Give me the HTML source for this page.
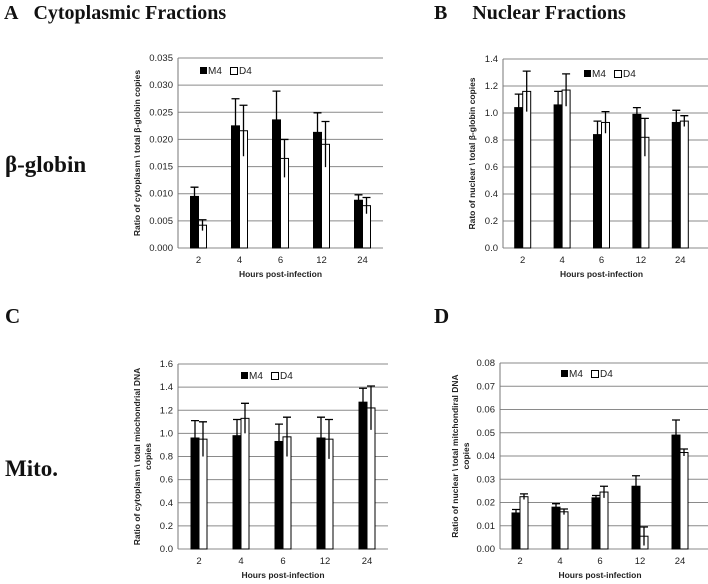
<!DOCTYPE html>
<html><head><meta charset="utf-8"><style>
body{margin:0;background:#fff;width:708px;height:584px;overflow:hidden;position:relative}
.t{position:absolute;font-family:"Liberation Serif",serif;font-weight:bold;color:#111;white-space:nowrap}
svg{position:absolute;left:0;top:0}
</style></head><body>
<div class="t" style="left:4px;top:2px;font-size:20px">A&nbsp;&nbsp;&nbsp;Cytoplasmic Fractions</div>
<div class="t" style="left:434px;top:2px;font-size:20px">B&nbsp;&nbsp;&nbsp;&nbsp;&nbsp;Nuclear Fractions</div>
<div class="t" style="left:5px;top:152px;font-size:23px">β-globin</div>
<div class="t" style="left:5px;top:304px;font-size:21px">C</div>
<div class="t" style="left:434px;top:304px;font-size:21px">D</div>
<div class="t" style="left:5px;top:456px;font-size:23px">Mito.</div>
<svg id="s" width="708" height="584"></svg>
<script>
const categories=["2","4","6","12","24"];
const aM4=[0.0095,0.0225,0.0236,0.0213,0.0088], aM4err=[0.0017,0.005,0.0053,0.0036,0.001];
const aD4=[0.0042,0.0216,0.0165,0.0191,0.0078], aD4err=[0.001,0.0047,0.0035,0.0042,0.0015];
const aTicks=["0.000","0.005","0.010","0.015","0.020","0.025","0.030","0.035"];
const bM4=[1.04,1.06,0.84,0.99,0.93], bM4err=[0.10,0.10,0.10,0.05,0.09];
const bD4=[1.16,1.17,0.93,0.82,0.94], bD4err=[0.15,0.12,0.08,0.14,0.04];
const bTicks=["0.0","0.2","0.4","0.6","0.8","1.0","1.2","1.4"];
const cM4=[0.96,0.98,0.93,0.96,1.27], cM4err=[0.15,0.14,0.15,0.18,0.12];
const cD4=[0.95,1.13,0.97,0.95,1.22], cD4err=[0.15,0.13,0.17,0.17,0.19];
const cTicks=["0.0","0.2","0.4","0.6","0.8","1.0","1.2","1.4","1.6"];
const dM4=[0.0155,0.018,0.022,0.027,0.049], dM4err=[0.0015,0.0015,0.001,0.0045,0.0065];
const dD4=[0.0225,0.016,0.0245,0.0055,0.0415], dD4err=[0.0012,0.0012,0.0025,0.004,0.0015];
const dTicks=["0.00","0.01","0.02","0.03","0.04","0.05","0.06","0.07","0.08"];

const svg=document.getElementById('s');const NS="http://www.w3.org/2000/svg";
function mk(tag,at,txt){const e=document.createElementNS(NS,tag);for(const k in at)e.setAttribute(k,at[k]);if(txt!==undefined)e.textContent=txt;svg.appendChild(e);return e;}
function chart(p){
  const ticks=p.ticks, max=parseFloat(ticks[ticks.length-1]);
  const y=v=>p.y0-(v/max)*(p.y0-p.y1);
  const cw=(p.x1-p.x0)/categories.length;
  const x=i=>p.x0+cw*(i+0.5);
  ticks.forEach(t=>{const yy=y(parseFloat(t));
    const g=mk('line',{x1:p.x0,x2:p.gx,y1:yy,y2:yy,stroke:'#8a8a8a','stroke-width':1});
    
    
    const l=mk('text',{x:p.x0-5,y:yy+3,'font-size':9.5,'text-anchor':'end','font-family':'Liberation Sans, sans-serif',fill:'#222'},t);
    
    
  });
  const ax=mk('line',{x1:p.x0,x2:p.x0,y1:p.y1,y2:p.y0,stroke:'#777'});
  
  
  categories.forEach((c,i)=>{
    const cx=x(i);
    [[p.m,p.me,'#000',-8],[p.d,p.de,'#fff',0]].forEach(([vals,errs,fill,off])=>{
      const v=vals[i],e=errs[i];
      const r=mk('rect',{x:cx+off,y:y(v),width:8,height:p.y0-y(v),fill:fill,stroke:'#000','stroke-width':1});
      
      
      const ex=cx+off+4;
      const w=mk('path',{d:`M${ex},${y(v-e)}V${y(v+e)}M${ex-4},${y(v+e)}H${ex+4}`,stroke:'#000','stroke-width':1.3,fill:'none'});
      
      
    });
    const tl=mk('text',{x:cx,y:p.y0+15,'font-size':9.5,'text-anchor':'middle','font-family':'Liberation Sans, sans-serif',fill:'#222'},c);
    
    
  });
  const xt=mk('text',{x:(p.x0+p.x1)/2,y:p.y0+29,'font-size':8.5,'font-weight':'bold','text-anchor':'middle','font-family':'Liberation Sans, sans-serif',fill:'#222'},'Hours post-infection');
  
  
  const cy=(p.y0+p.y1)/2;
  p.ylab.forEach((s,k)=>{
    const yt=mk('text',{x:p.lx+k*11,y:cy,'font-size':8.5,'font-weight':'bold','text-anchor':'middle','font-family':'Liberation Sans, sans-serif',fill:'#222',transform:`rotate(-90 ${p.lx+k*11} ${cy})`},s);
    
    
  });
  const lg=mk('rect',{x:p.legx,y:p.legy-7,width:7,height:7,fill:'#000'});
  
  
  const lt=mk('text',{x:p.legx+8,y:p.legy,'font-size':10,'font-family':'Liberation Sans, sans-serif',fill:'#222'},'M4');
  
  
  const lg2=mk('rect',{x:p.legx+30.5,y:p.legy-6.5,width:7,height:7,fill:'#fff',stroke:'#000'});
  
  
  const lt2=mk('text',{x:p.legx+39,y:p.legy,'font-size':10,'font-family':'Liberation Sans, sans-serif',fill:'#222'},'D4');
  
  
}
chart({x0:178,x1:383,gx:383,y0:248,y1:58,ticks:aTicks,m:aM4,me:aM4err,d:aD4,de:aD4err,lx:140,ylab:["Ratio of cytoplasm \\ total  β-globin copies"],legx:200,legy:74});
chart({x0:503,x1:700,gx:708,y0:248,y1:59,ticks:bTicks,m:bM4,me:bM4err,d:bD4,de:bD4err,lx:475,ylab:["Rato of nuclear \\ total  β-globin copies"],legx:584,legy:77});
chart({x0:178,x1:388,gx:388,y0:549,y1:364,ticks:cTicks,m:cM4,me:cM4err,d:cD4,de:cD4err,lx:140,ylab:["Ratio of cytoplasm \\ total miochondrial DNA","copies"],legx:241,legy:379});
chart({x0:500,x1:700,gx:708,y0:549,y1:363,ticks:dTicks,m:dM4,me:dM4err,d:dD4,de:dD4err,lx:458,ylab:["Ratio of nuclear \\ total mitchondiral DNA","copies"],legx:561,legy:377});
</script>
</body></html>
